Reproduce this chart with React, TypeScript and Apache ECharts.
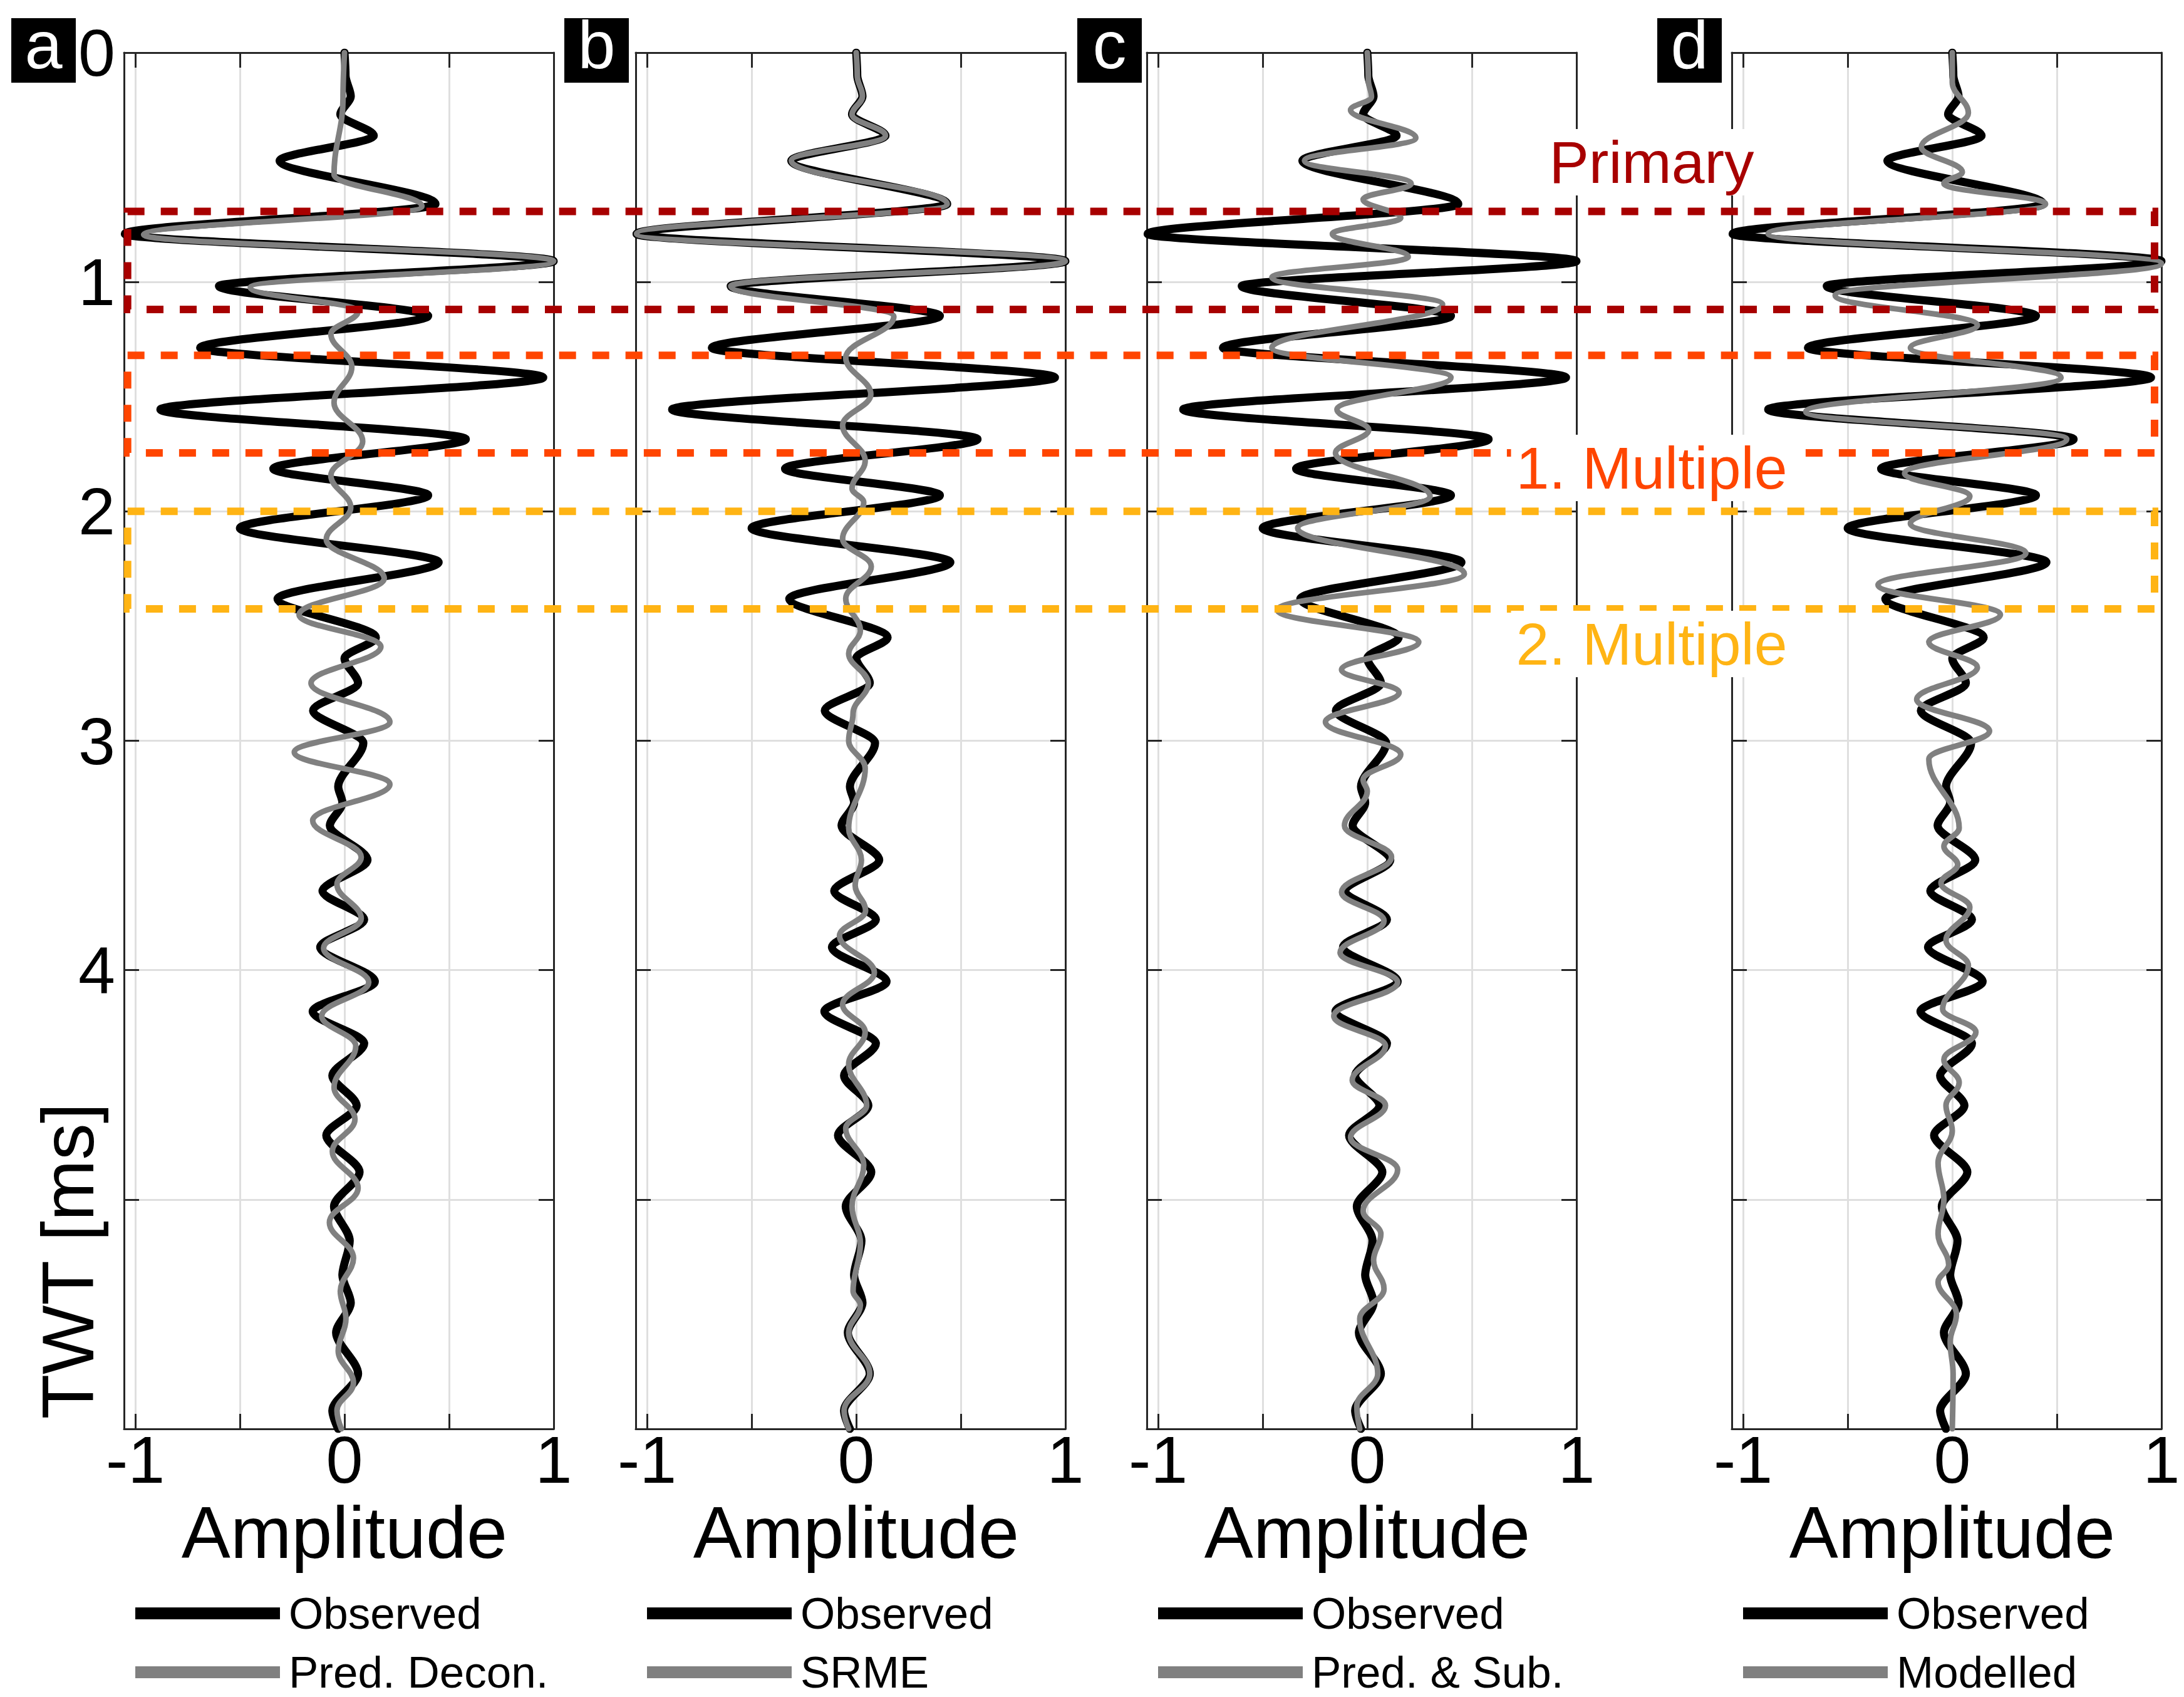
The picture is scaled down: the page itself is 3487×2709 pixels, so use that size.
import React, { useEffect, useRef } from 'react';
import * as echarts from 'echarts';

const FONT = "'Liberation Sans', Arial, Helvetica, sans-serif";
const W = 3487;
const H = 2709;

// [TWT (ms), amplitude]
const observed: [number, number][] = [
  [0.0, 0.0], [0.1, 0.005], [0.19, 0.03], [0.27, -0.02], [0.362, 0.14], [0.471, -0.31],
  [0.66, 0.435], [0.79, -1.05], [0.909, 1.0], [1.018, -0.6], [1.148, 0.4], [1.287, -0.69],
  [1.416, 0.95], [1.556, -0.88], [1.685, 0.58], [1.814, -0.34], [1.93, 0.4], [2.073, -0.5],
  [2.222, 0.45], [2.381, -0.32], [2.55, 0.15], [2.64, 0.0], [2.749, 0.065], [2.868, -0.15],
  [3.01, 0.09], [3.2, -0.03], [3.27, -0.01], [3.37, -0.07], [3.52, 0.11], [3.655, -0.105],
  [3.78, 0.094], [3.9, -0.116], [4.05, 0.145], [4.18, -0.152], [4.32, 0.094], [4.46, -0.058],
  [4.59, 0.058], [4.72, -0.087], [4.88, 0.072], [5.03, -0.05], [5.18, 0.025], [5.33, -0.01],
  [5.45, 0.03], [5.58, -0.04], [5.76, 0.065], [5.92, -0.058], [6.0, -0.03],
];

const predDecon: [number, number][] = [
  [0.0, 0.0], [0.2, -0.007], [0.531, -0.05], [0.67, 0.37], [0.794, -0.96], [0.909, 1.0],
  [1.024, -0.45], [1.128, 0.065], [1.227, -0.065], [1.37, 0.035], [1.526, -0.05], [1.695, 0.087],
  [1.844, -0.065], [1.983, 0.03], [2.122, -0.087], [2.292, 0.19], [2.451, -0.217], [2.59, 0.174],
  [2.749, -0.16], [2.918, 0.217], [3.05, -0.24], [3.19, 0.217], [3.348, -0.152], [3.507, 0.08],
  [3.626, -0.036], [3.775, 0.08], [3.904, -0.1], [4.053, 0.116], [4.2, -0.109], [4.331, 0.054],
  [4.51, -0.05], [4.65, 0.05], [4.79, -0.058], [4.95, 0.065], [5.1, -0.072], [5.255, 0.043],
  [5.4, -0.02], [5.52, 0.007], [5.66, -0.03], [5.8, 0.043], [5.92, -0.036], [6.0, -0.015],
];

// SRME equals the observed trace down to ~1.02 ms, then departs from it
const srmeTail: [number, number][] = [
  [1.15, 0.18], [1.33, -0.05], [1.49, 0.07], [1.625, -0.065], [1.78, 0.043], [1.9, -0.02],
  [1.96, 0.036], [2.12, -0.065], [2.24, 0.072], [2.38, -0.05], [2.52, 0.02], [2.62, -0.036],
  [2.75, 0.058], [2.88, -0.015], [3.0, -0.036], [3.12, 0.043], [3.38, -0.036], [3.52, 0.025],
  [3.63, -0.005], [3.74, 0.045], [3.85, -0.08], [4.01, 0.087], [4.15, -0.065], [4.27, 0.043],
  [4.41, -0.036], [4.59, 0.05], [4.69, -0.05], [4.85, 0.036], [5.03, -0.02], [5.19, 0.02],
  [5.4, -0.015], [5.46, 0.02], [5.58, -0.036], [5.76, 0.065], [5.92, -0.058], [6.0, -0.036],
];
const srme: [number, number][] = [...observed.filter(([t]) => t <= 1.02), ...srmeTail];

const predSub: [number, number][] = [
  [0.0, 0.0], [0.12, 0.005], [0.193, 0.02], [0.25, -0.08], [0.372, 0.232], [0.471, -0.3],
  [0.571, 0.21], [0.64, -0.02], [0.72, 0.16], [0.79, -0.167], [0.89, 0.196], [0.98, -0.456],
  [1.098, 0.36], [1.287, -0.456], [1.416, 0.4], [1.556, -0.145], [1.645, 0.007], [1.745, -0.152],
  [1.934, 0.3], [2.073, -0.333], [2.272, 0.464], [2.43, -0.43], [2.57, 0.246], [2.69, -0.123],
  [2.79, 0.152], [2.918, -0.2], [3.06, 0.16], [3.17, -0.02], [3.22, 0.0], [3.37, -0.109],
  [3.507, 0.116], [3.66, -0.123], [3.785, 0.08], [3.924, -0.13], [4.053, 0.145], [4.2, -0.16],
  [4.331, 0.087], [4.48, -0.072], [4.59, 0.087], [4.73, -0.08], [4.87, 0.145], [5.05, -0.02],
  [5.15, 0.065], [5.265, 0.03], [5.39, 0.08], [5.52, -0.036], [5.76, 0.05], [5.9, -0.05],
  [6.0, -0.036],
];

const modelled: [number, number][] = [
  [0.0, 0.0], [0.13, 0.0], [0.263, 0.077], [0.412, -0.148], [0.521, 0.048], [0.571, -0.04],
  [0.66, 0.446], [0.79, -0.88], [0.919, 1.0], [1.058, -0.56], [1.188, 0.12], [1.287, -0.2],
  [1.416, 0.52], [1.566, -0.7], [1.685, 0.547], [1.834, -0.228], [1.934, 0.084], [2.053, -0.2],
  [2.182, 0.352], [2.321, -0.355], [2.45, 0.23], [2.57, -0.112], [2.68, 0.12], [2.82, -0.17],
  [2.958, 0.178], [3.08, -0.112], [3.38, 0.033], [3.46, -0.04], [3.54, 0.026], [3.62, -0.054],
  [3.725, 0.084], [3.87, -0.03], [3.98, 0.077], [4.17, -0.046], [4.27, 0.113], [4.39, -0.04],
  [4.49, 0.033], [4.59, -0.03], [4.7, 0.0], [4.84, -0.068], [5.0, -0.04], [5.15, -0.068],
  [5.285, -0.017], [5.36, -0.068], [5.5, 0.02], [5.62, -0.01], [5.76, 0.004], [6.0, 0.0],
];

const panelLetters = ['a', 'b', 'c', 'd'];
const processedNames = ['Pred. Decon.', 'SRME', 'Pred. & Sub.', 'Modelled'];
const processedTraces = [predDecon, srme, predSub, modelled];
const ampTicks = [-1, -0.5, 0, 0.5, 1];
const ampTickLabels = [-1, 0, 1];
const twtTickLabels = [0, 1, 2, 3, 4];
const zoneNames = ['Primary', '1. Multiple', '2. Multiple'];
const zoneTop = [0.692, 1.32, 2.0];
const zoneBottom = [1.12, 1.745, 2.425];
const zoneColors = ['#a80000', '#ff4500', '#ffb414'];

const AMP_MIN = -1.054;
const AMP_MAX = 1;
const TWT_MAX = 6;
const ZONE_LEFT_AMP = -1.037; // on panel a
const ZONE_RIGHT_AMP = 0.967; // on panel d

const gridLefts = [198, 1015, 1831, 2765];
const GRID_TOP = 84;
const GRID_W = 686;
const GRID_H = 2197;
const letterBoxLefts = [18, 901, 1720, 2646];

const AXIS_COLOR = '#262626';
const GRID_COLOR = '#dfdfdf';

function buildOption(): any {
  const grid: any[] = [];
  const xAxis: any[] = [];
  const yAxis: any[] = [];
  const series: any[] = [];
  const legend: any[] = [];
  const axisLine = { show: true, onZero: false, lineStyle: { color: AXIS_COLOR, width: 3 } };
  const tickStyle = { color: AXIS_COLOR, width: 3 };

  panelLetters.forEach((_, i) => {
    grid.push({
      left: gridLefts[i], top: GRID_TOP, width: GRID_W, height: GRID_H,
      containLabel: false, outerBoundsMode: 'none',
    });
    xAxis.push({
      gridIndex: i, type: 'value', position: 'bottom', min: AMP_MIN, max: AMP_MAX,
      axisLine,
      axisTick: { show: true, inside: true, length: 24, customValues: ampTicks, lineStyle: tickStyle },
      axisLabel: {
        show: true, customValues: ampTickLabels, fontSize: 106, color: '#000', fontFamily: FONT,
        margin: -4, formatter: (v: number) => String(v),
      },
      splitLine: { show: true, lineStyle: { color: GRID_COLOR, width: 3 } },
      name: 'Amplitude', nameLocation: 'middle', nameGap: 48,
      nameTextStyle: { fontSize: 117, color: '#000', fontFamily: FONT, padding: [0, 0, 0, 18] },
    });
    xAxis.push({
      gridIndex: i, type: 'value', position: 'top', min: AMP_MIN, max: AMP_MAX,
      axisLine,
      axisTick: { show: true, inside: true, length: 24, customValues: ampTicks, lineStyle: tickStyle },
      axisLabel: { show: false },
      splitLine: { show: false },
    });
    yAxis.push({
      gridIndex: i, type: 'value', position: 'left', min: 0, max: TWT_MAX, interval: 1, inverse: true,
      axisLine,
      axisTick: { show: true, inside: true, length: 24, lineStyle: tickStyle },
      axisLabel: {
        show: i === 0, customValues: twtTickLabels, fontSize: 106, color: '#000', fontFamily: FONT,
        margin: 14, formatter: (v: number) => String(v),
      },
      splitLine: { show: true, lineStyle: { color: GRID_COLOR, width: 3 } },
    });
    yAxis.push({
      gridIndex: i, type: 'value', position: 'right', min: 0, max: TWT_MAX, interval: 1, inverse: true,
      axisLine,
      axisTick: { show: true, inside: true, length: 24, lineStyle: tickStyle },
      axisLabel: { show: false },
      splitLine: { show: false },
    });
    series.push({
      type: 'line', name: 'Observed', xAxisIndex: 2 * i, yAxisIndex: 2 * i,
      data: observed.map(([t, a]) => [a, t]),
      showSymbol: false, symbol: 'none', smooth: 0.3, smoothMonotone: 'y',
      color: '#000000', itemStyle: { color: '#000000' },
      lineStyle: { color: '#000000', width: 13, join: 'round', cap: 'round' },
      z: 2, silent: true,
    });
    series.push({
      type: 'line', name: processedNames[i], xAxisIndex: 2 * i, yAxisIndex: 2 * i,
      data: processedTraces[i].map(([t, a]) => [a, t]),
      showSymbol: false, symbol: 'none', smooth: 0.4, smoothMonotone: 'y',
      color: '#808080', itemStyle: { color: '#808080' },
      lineStyle: { color: '#808080', width: 9, join: 'round', cap: 'round' },
      z: 3, silent: true,
    });
    legend.push({
      orient: 'vertical', left: gridLefts[i] + 18, top: 2540, padding: 0,
      itemWidth: 231, itemHeight: 19, itemGap: 23, icon: 'rect', selectedMode: false,
      data: ['Observed', processedNames[i]],
      textStyle: { fontSize: 71, color: '#000', fontFamily: FONT, padding: [0, 0, 0, 9] },
    });
  });

  return {
    animation: false,
    backgroundColor: '#ffffff',
    textStyle: { fontFamily: FONT },
    grid, xAxis, yAxis, series, legend,
  };
}

export default function App() {
  const ref = useRef<HTMLDivElement>(null);
  useEffect(() => {
    if (!ref.current) return;
    const chart = echarts.init(ref.current, null, { renderer: 'svg', width: W, height: H });
    chart.setOption(buildOption());

    const xL = chart.convertToPixel({ xAxisIndex: 0 } as any, ZONE_LEFT_AMP) as unknown as number;
    const xR = chart.convertToPixel({ xAxisIndex: 6 } as any, ZONE_RIGHT_AMP) as unknown as number;
    const boxes = zoneNames.map((_, k) => {
      const y0 = chart.convertToPixel({ yAxisIndex: 0 } as any, zoneTop[k]) as unknown as number;
      const y1 = chart.convertToPixel({ yAxisIndex: 0 } as any, zoneBottom[k]) as unknown as number;
      return {
        type: 'rect', z: 50, silent: true,
        shape: { x: xL, y: y0, width: xR - xL, height: y1 - y0 },
        style: { fill: 'none', stroke: zoneColors[k], lineWidth: 12, lineDash: [27, 26] },
      };
    });
    const zoneLabelY = [259, 747, 1028];
    const zoneLabels = zoneNames.map((name, k) => ({
      type: 'text', z: 60, silent: true, x: 2637, y: zoneLabelY[k],
      style: {
        text: name, fill: zoneColors[k], fontSize: 95, fontFamily: FONT,
        align: 'center', verticalAlign: 'middle', backgroundColor: '#ffffff',
        padding: [0, 8], lineHeight: 106,
      },
    }));
    const letterBoxes = panelLetters.flatMap((letter, i) => [
      {
        type: 'rect', z: 60, silent: true,
        shape: { x: letterBoxLefts[i], y: 29, width: 103, height: 103 },
        style: { fill: '#000000' },
      },
      {
        type: 'text', z: 61, silent: true, x: letterBoxLefts[i] + 51.5, y: 71,
        style: {
          text: letter, fill: '#ffffff', fontSize: 108, fontFamily: FONT,
          align: 'center', verticalAlign: 'middle',
        },
      },
    ]);
    const yName = {
      type: 'text', z: 60, silent: true, x: 108, y: 2013, rotation: Math.PI / 2,
      style: {
        text: 'TWT [ms]', fill: '#000000', fontSize: 117, fontFamily: FONT,
        align: 'center', verticalAlign: 'middle',
      },
    };
    chart.setOption({ graphic: [...boxes, ...zoneLabels, ...letterBoxes, yName] });
    return () => chart.dispose();
  }, []);
  return (
    <div
      ref={ref}
      style={{ position: 'absolute', left: 0, top: 0, width: W, height: H, background: '#ffffff' }}
    />
  );
}
